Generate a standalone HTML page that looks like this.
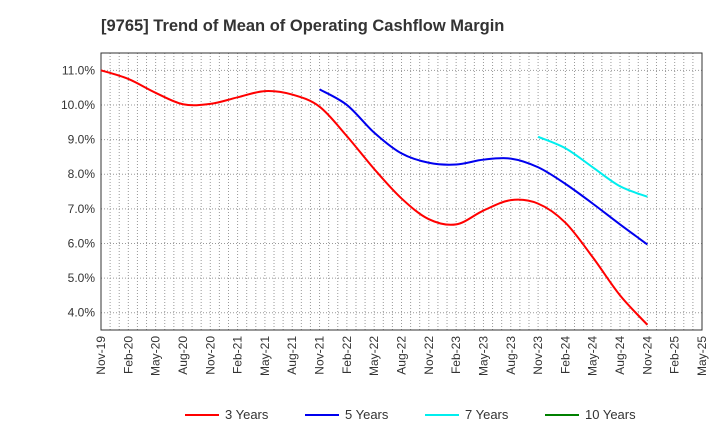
<!DOCTYPE html>
<html><head><meta charset="utf-8"><style>
body{margin:0;background:#fff;}
svg text{font-family:"Liberation Sans",sans-serif;}
</style></head><body>
<svg id="chart" width="720" height="440" xmlns="http://www.w3.org/2000/svg">
<text x="101" y="31" text-anchor="start" font-size="16.5" font-weight="bold" fill="#333">[9765]  Trend of Mean of Operating Cashflow Margin</text>
<g id="grid"></g><g id="axes"></g><g id="series"></g><g id="legend"></g>
</svg>
<script>
const xLabels=["Nov-19","Feb-20","May-20","Aug-20","Nov-20","Feb-21","May-21","Aug-21","Nov-21","Feb-22","May-22","Aug-22","Nov-22","Feb-23","May-23","Aug-23","Nov-23","Feb-24","May-24","Aug-24","Nov-24","Feb-25","May-25"];
const yTicks=[4,5,6,7,8,9,10,11];
const s3=[11.0,10.75,10.35,10.02,10.03,10.22,10.4,10.3,9.95,9.1,8.15,7.3,6.7,6.55,6.95,7.25,7.15,6.6,5.6,4.5,3.65];
const s5=[10.45,10.0,9.2,8.6,8.33,8.28,8.42,8.45,8.2,7.72,7.15,6.55,5.97];
const s7=[9.08,8.75,8.2,7.65,7.35];
const s10=[];
const L=101,R=702,T=53,B=330,yMin=3.5,yMax=11.5;
const NS="http://www.w3.org/2000/svg";
const xq=i=>L+(R-L)*i/(xLabels.length-1);
const xm=m=>L+(R-L)*m/((xLabels.length-1)*3);
const y=v=>B-(B-T)*(v-yMin)/(yMax-yMin);
function mk(t,a,p){const e=document.createElementNS(NS,t);for(const k in a)e.setAttribute(k,a[k]);p.appendChild(e);return e;}
const grid=document.getElementById('grid'),axes=document.getElementById('axes'),ser=document.getElementById('series'),leg=document.getElementById('legend');
for(let m=1;m<(xLabels.length-1)*3;m++){const l=mk('line',{x1:xm(m),x2:xm(m),y1:T,y2:B,stroke:'#999','stroke-dasharray':'1,2','stroke-width':1},grid);
}
yTicks.forEach(v=>{const l=mk('line',{x1:L,x2:R,y1:y(v),y2:y(v),stroke:'#999','stroke-dasharray':'1,2'},grid);

const t=mk('text',{x:L-6,y:y(v)+4,'text-anchor':'end','font-size':12,fill:'#333'},axes);t.textContent=v.toFixed(1)+'%';
});
xLabels.forEach((s,i)=>{const t=mk('text',{transform:`translate(${xq(i)+4},${B+6}) rotate(-90)`,'text-anchor':'end','font-size':12,fill:'#333'},axes);t.textContent=s;
});
const fr=mk('rect',{x:L,y:T,width:R-L,height:B-T,fill:'none',stroke:'#333'},axes);

function path(vals,start){const p=vals.map((v,i)=>[xq(start+i),y(v)]);if(p.length<2)return '';let d=`M${p[0][0]},${p[0][1]}`;
for(let i=0;i<p.length-1;i++){const p0=p[i-1]||p[i],p1=p[i],p2=p[i+1],p3=p[i+2]||p2;
d+=` C${p1[0]+(p2[0]-p0[0])/6},${p1[1]+(p2[1]-p0[1])/6} ${p2[0]-(p3[0]-p1[0])/6},${p2[1]-(p3[1]-p1[1])/6} ${p2[0]},${p2[1]}`;}return d;}
const series=[["3 Years",s3,0,"#ff0000"],["5 Years",s5,8,"#0000ee"],["7 Years",s7,16,"#00eeee"],["10 Years",s10,0,"#008000"]];
series.forEach((s,i)=>{if(s[1].length>1){const p=mk('path',{d:path(s[1],s[2]),fill:'none',stroke:s[3],'stroke-width':2},ser);
}
const lx=185+i*120;const g=mk('g',{},leg);
mk('line',{x1:lx,x2:lx+34,y1:415,y2:415,stroke:s[3],'stroke-width':2},g);
const t=mk('text',{x:lx+40,y:419,'font-size':13,fill:'#333'},g);t.textContent=s[0];});
</script>
</body></html>
